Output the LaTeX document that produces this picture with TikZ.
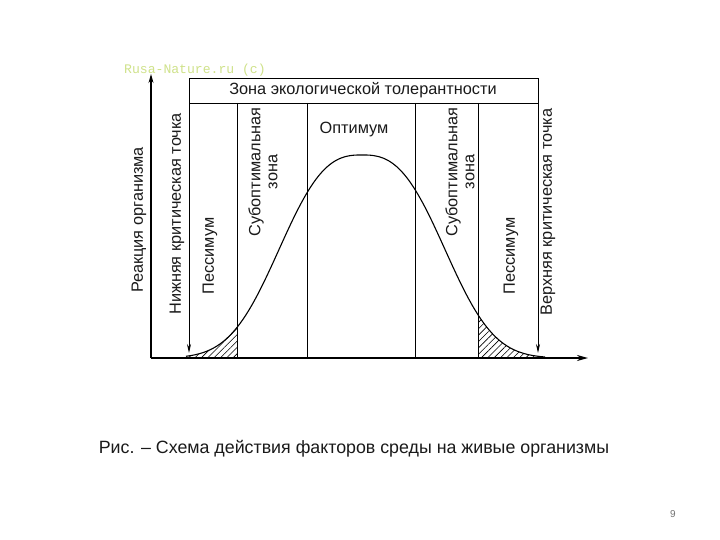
\documentclass[tikz,border=0pt]{standalone}
\usepackage{fontspec}
\setmainfont{Liberation Sans}
\newfontfamily\wmfont{Liberation Mono}
\usetikzlibrary{arrows.meta,patterns.meta}
\definecolor{wmcol}{HTML}{CFE28A}
\definecolor{txtcol}{HTML}{1A1A1A}
\tikzset{
  lbl/.style={font=\fontsize{16.3}{17}\selectfont, text=txtcol, inner sep=0pt, align=center},
  rlbl/.style={lbl, rotate=90},
  thin line/.style={line width=0.9pt, black},
  crit/.style={line width=0.9pt, -{Stealth[length=9pt,width=4pt]}},
  hatch/.style={pattern={Lines[angle=45,distance=4.5pt,line width=0.6pt]}},
  declare function={f(\x)=358-203*exp(-((abs(\x-362)+0.01)/98.7)^2.7);}
}
\begin{document}
\begin{tikzpicture}[x=1pt,y=-1pt]
\useasboundingbox (0,0) rectangle (720,540);
\fill[white] (0,0) rectangle (720,540);
% watermark
\node[anchor=west, inner sep=0pt, font=\wmfont\fontsize{13.1}{13}\selectfont, text=wmcol] (wm) at (124,70) {Rusa-Nature.ru (c)};
% coordinates
\coordinate (O) at (151,358);
\coordinate (Ytop) at (151,74);
\coordinate (Xend) at (588,358);
\coordinate (hTL) at (189,78);
\coordinate (hBR) at (538,103);
% hatched areas
\fill[hatch] plot[domain=189:237, samples=40] (\x,{f(\x)}) -- (237,358) -- (189,358) -- cycle;
\fill[hatch] plot[domain=478:540, samples=40] (\x,{f(\x)}) -- (540,358) -- (478,358) -- cycle;
% header box
\draw[thin line] (hTL) rectangle (hBR);
\node[lbl] (head) at (363,90) {Зона экологической толерантности};
% vertical zone lines
\foreach \xx/\nm in {237/a,307/b,415/c,478/d}{
  \coordinate (t\nm) at (\xx,103);
  \coordinate (b\nm) at (\xx,358);
  \draw[thin line] (t\nm) -- (b\nm);
}
% critical point arrows
\coordinate (lcT) at (189,103);
\coordinate (lcB) at (189,353);
\coordinate (rcT) at (538,103);
\coordinate (rcB) at (538,353);
\draw[crit] (lcT) -- (lcB);
\draw[crit] (rcT) -- (rcB);
% curve
\draw[line width=1.1pt] plot[domain=186:545, samples=180, smooth] (\x,{f(\x)});
% axes
\draw[line width=1.1pt, -{Stealth[length=9pt,width=5pt]}] (O) -- (Ytop);
\draw[line width=1.8pt, -{Stealth[length=11pt,width=6pt]}] (O) -- (Xend);
% labels
\node[rlbl] (react) at (139,220) {Реакция организма};
\node[rlbl] (lowc) at (177,214) {Нижняя критическая точка};
\node[rlbl] (pessL) at (210,256) {Пессимум};
\node[rlbl] (subL) at (263,172) {Субоптимальная\\зона};
\node[lbl] (opt) at (354,130) {Оптимум};
\node[rlbl] (subR) at (460,172) {Субоптимальная\\зона};
\node[rlbl] (pessR) at (511,256) {Пессимум};
\node[rlbl] (upc) at (548,212) {Верхняя критическая точка};
% caption
\node[font=\fontsize{17.8}{20}\selectfont, text=txtcol, inner sep=0pt] (cap) at (354,449) {Рис. – Схема действия факторов среды на живые организмы};
\node[font=\fontsize{10}{12}\selectfont, text=black!55, inner sep=0pt] (pg) at (673,514) {9};
\end{tikzpicture}
\end{document}
